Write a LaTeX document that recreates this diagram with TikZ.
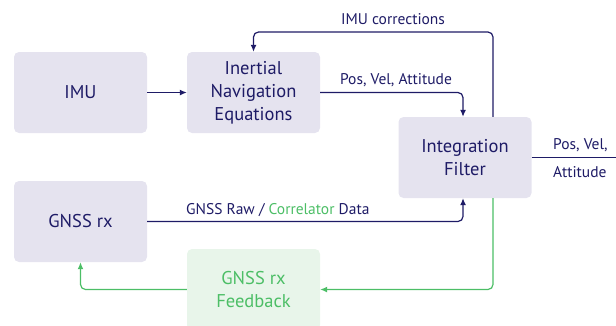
\documentclass[tikz,border=0pt]{standalone}
\usepackage{fontspec}
\setmainfont{PT Sans}
\usetikzlibrary{arrows.meta}
\definecolor{navy}{HTML}{1E1B66}
\definecolor{boxfill}{HTML}{E5E3EF}
\definecolor{fbgreen}{HTML}{4CBE66}
\definecolor{fbfill}{HTML}{E8F5EA}

\tikzset{
  block/.style={fill=boxfill, rounded corners=5pt, minimum width=133pt, minimum height=81pt,
    align=center, text=navy, font=\fontsize{18.5}{23}\selectfont, inner sep=0pt},
  fbblock/.style={block, fill=fbfill, text=fbgreen},
  link/.style={navy, line width=1.2pt, rounded corners=5pt},
  fblink/.style={link, fbgreen},
  lbl/.style={text=navy, font=\fontsize{15.5}{18}\selectfont, inner sep=0pt}
}

\begin{document}
\begin{tikzpicture}[x=1pt,y=-1pt,>={Latex[length=7pt,width=6pt]}]
            \useasboundingbox (0,0) rectangle (616,325);

            % the blocks
            \node[block] (imu) at (80.5,92.5) {IMU};
            \node[block] (ine) at (253.5,92.5) {Inertial\\Navigation\\Equations};
            \node[block] (filter) at (465,157.5) {Integration\\Filter};
            \node[block] (gnss) at (80.5,221.5) {GNSS rx};
            \begin{scope}
              \clip (0,0) rectangle (616,325);
              \node[fbblock] (fb) at (253.5,289.5) {GNSS rx\\Feedback};
            \end{scope}

            % helper points
            \coordinate (top) at (0,32);
            \coordinate (out) at (616,157.5);

            % inertial path
            \draw[link, ->] (imu) -- (ine);
            \draw[link, ->] (ine.east) -| ([xshift=-2pt]filter.north);
            \draw[link, ->] ([xshift=28pt]filter.north) |- (ine.north |- top) -- (ine.north);
            \draw[link] (filter.east) -- (out);

            % gnss path
            \draw[link, ->] (gnss.east) -| ([xshift=-2pt]filter.south);
            \draw[fblink, ->] ([xshift=28pt]filter.south) |- (fb.east);
            \draw[fblink, ->] (fb.west) -| (gnss.south);

            % text on the links
            \node[lbl] (corr) at (393,19) {IMU corrections};
            \node[lbl] (pva) at (396,80) {Pos, Vel, Attitude};
            \node[lbl, anchor=west] (outa) at (553,145) {Pos, Vel,};
            \node[lbl, anchor=west] (outb) at (553,172) {Attitude};
            \node[lbl, anchor=west] (raw) at (186,210) {GNSS Raw / \textcolor{fbgreen}{Correlator} Data};

        \end{tikzpicture}
\end{document}
